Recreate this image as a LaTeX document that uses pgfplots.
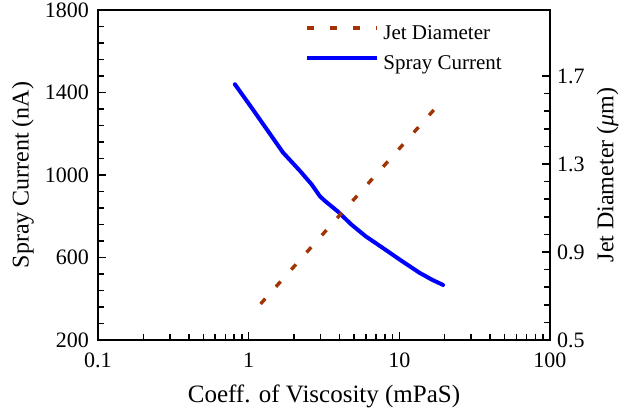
\documentclass[border=0pt]{standalone}
\usepackage{pgfplots}
\pgfplotsset{compat=1.18}
\usepackage{fontspec}
\setmainfont{Liberation Serif}

\definecolor{jetbrown}{RGB}{160,52,5}
\definecolor{curblue}{RGB}{0,0,255}

\pgfplotsset{
  sharedaxis/.style={
    scale only axis, width=226pt, height=165pt,
    xmin=0.1, xmax=100,
    axis line style={line width=0.85pt},
    every tick/.style={black, line width=0.8pt},
    major tick length=4pt, minor tick length=3pt,
    tick align=inside,
    /pgf/number format/assume math mode=true,
    /pgf/number format/1000 sep={},
    tick label style={font=\fontsize{11}{13}\selectfont},
    label style={font=\fontsize{12}{14}\selectfont},
  }
}

\pgfplotstableread{
visc current
0.81 1440
1.07 1316
1.32 1221
1.69 1109
2.19 1020
2.62 954
2.97 897
3.20 875
3.92 822
4.80 760
6.00 702
8.00 640
10.1 589
13.6 526
16.5 492
19.5 467
}\currentdata

\pgfplotstableread{
visc diam
1.20 0.664
2.00 0.834
3.90 1.057
7.00 1.251
10.0 1.370
14.0 1.482
19.4 1.591
}\jetdata

\begin{document}
\begin{tikzpicture}
\begin{semilogxaxis}[sharedaxis,
  ymin=200, ymax=1800,
  xtick={0.1,1,10,100}, xticklabels={0.1,1,10,100},
  minor xtick={0.2,0.3,0.4,0.5,0.6,0.7,0.8,0.9,2,3,4,5,6,7,8,9,20,30,40,50,60,70,80,90},
  ytick={200,600,1000,1400,1800}, minor y tick num=4,
  xtick pos=left, ytick pos=left,
  xticklabel style={yshift=-3pt},
  yticklabel style={xshift=-1pt},
  xlabel={Coeff. of Viscosity (mPaS)},
  ylabel={Spray Current (nA)},
  xlabel style={at={(axis description cs:0.5,0)}, anchor=center, yshift=-28pt,
    font=\fontsize{12.5}{14}\selectfont},
  ylabel style={at={(axis description cs:-0.166,0.5)}, anchor=center},
]
\addplot[curblue, line width=2pt, line join=round, line cap=round] table[x=visc, y=current] {\currentdata};
\end{semilogxaxis}
\begin{semilogxaxis}[sharedaxis,
  axis x line=none, axis y line*=right,
  ymin=0.5, ymax=2.0,
  ytick={0.5,0.9,1.3,1.7}, minor y tick num=4,
  yticklabel style={/pgf/number format/fixed, /pgf/number format/precision=1, /pgf/number format/fixed zerofill},
  ylabel={Jet Diameter ({\itshape μ}m)},
  ylabel style={at={(axis description cs:1.1272,0.5)}, anchor=center},
  legend style={draw=none, fill=none, at={(rel axis cs:0.458,0.9607)}, anchor=north west,
    font=\fontsize{10.5}{12}\selectfont, row sep=4.5pt, inner sep=0pt,
    nodes={inner ysep=0pt, text height=8pt, text depth=2.5pt},
    cells={anchor=west}},
  legend image code/.code={\draw[#1] (0pt,3pt) -- (35pt,3pt);},
]
\addplot[jetbrown, line width=1.7pt, dash pattern=on 3.5pt off 8pt] table[x=visc, y=diam] {\jetdata};
\addlegendentry{Jet Diameter}
\addlegendimage{curblue, line width=2pt}
\addlegendentry{Spray Current}
\end{semilogxaxis}
\pgfresetboundingbox
\path[use as bounding box] (-49pt,-35.5pt) rectangle (263pt,170pt);
\end{tikzpicture}
\end{document}
